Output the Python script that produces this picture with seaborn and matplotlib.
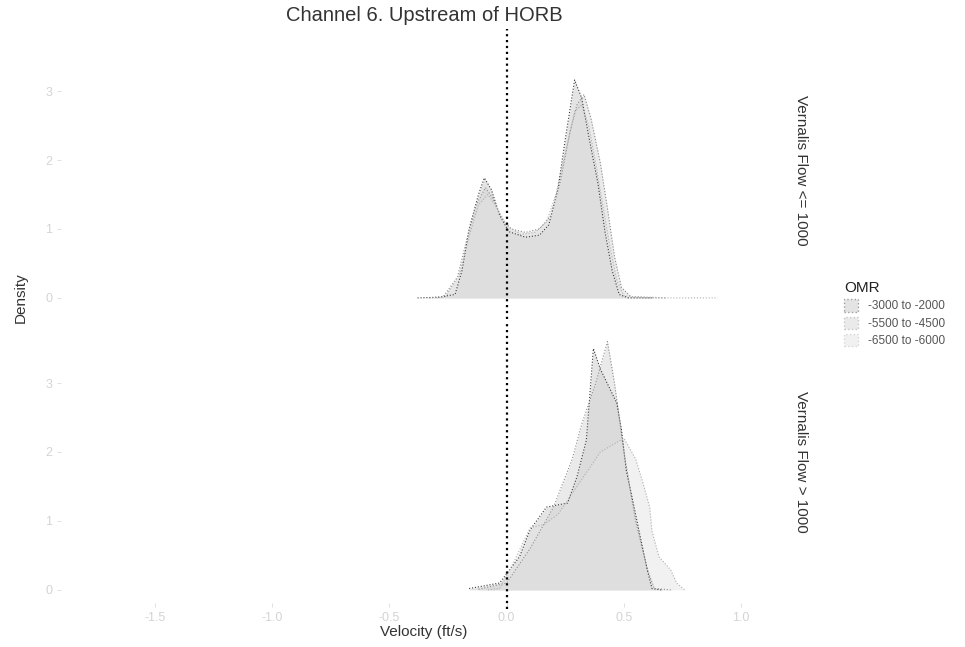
import numpy as np
import pandas as pd
import matplotlib
matplotlib.use("Agg")
import matplotlib.pyplot as plt
import seaborn as sns
from matplotlib.patches import Patch

# ---------------- data ----------------
omr_groups = ["-3000 to -2000", "-5500 to -4500", "-6500 to -6000"]
panels = ["Vernalis Flow <= 1000", "Vernalis Flow > 1000"]

# Vernalis Flow <= 1000
top_g1_x = [-0.38, -0.29, -0.22, -0.19, -0.16, -0.12, -0.095, -0.065, -0.03, 0.01, 0.08, 0.14, 0.18, 0.22, 0.25, 0.29, 0.32, 0.35, 0.39, 0.42, 0.45, 0.48, 0.52, 0.62]
top_g1_y = [0.00, 0.01, 0.05, 0.40, 1.00, 1.50, 1.74, 1.57, 1.20, 0.96, 0.88, 0.91, 1.06, 1.60, 2.30, 3.16, 2.90, 2.35, 1.65, 0.95, 0.40, 0.05, 0.00, 0.00]
top_g2_x = [-0.33, -0.27, -0.21, -0.17, -0.13, -0.09, -0.06, -0.02, 0.02, 0.08, 0.14, 0.19, 0.23, 0.27, 0.30, 0.33, 0.36, 0.40, 0.43, 0.46, 0.49, 0.53, 0.68]
top_g2_y = [0.00, 0.02, 0.30, 0.85, 1.35, 1.60, 1.45, 1.15, 1.00, 0.95, 1.00, 1.20, 1.70, 2.40, 2.80, 2.95, 2.60, 1.95, 1.30, 0.60, 0.15, 0.02, 0.00]
top_g3_x = [-0.30, -0.26, -0.20, -0.16, -0.12, -0.08, -0.04, 0.00, 0.06, 0.12, 0.17, 0.21, 0.25, 0.29, 0.32, 0.35, 0.38, 0.41, 0.44, 0.47, 0.50, 0.60, 0.90]
top_g3_y = [0.00, 0.02, 0.35, 0.90, 1.35, 1.50, 1.30, 1.05, 0.92, 0.95, 1.10, 1.50, 2.10, 2.70, 2.80, 2.50, 1.95, 1.35, 0.75, 0.25, 0.03, 0.00, 0.00]

# Vernalis Flow > 1000
bot_g1_x = [-0.16, -0.03, 0.055, 0.10, 0.17, 0.26, 0.30, 0.34, 0.37, 0.40, 0.47, 0.49, 0.51, 0.54, 0.57, 0.60, 0.62, 0.66]
bot_g1_y = [0.02, 0.10, 0.48, 0.87, 1.20, 1.26, 1.64, 2.17, 3.50, 3.20, 2.71, 2.32, 1.74, 1.26, 0.77, 0.29, 0.02, 0.00]
bot_g2_x = [-0.12, 0.00, 0.10, 0.20, 0.28, 0.32, 0.38, 0.43, 0.46, 0.50, 0.55, 0.60, 0.63, 0.70]
bot_g2_y = [0.01, 0.10, 0.60, 1.20, 1.90, 2.40, 3.00, 3.60, 3.00, 2.00, 1.00, 0.30, 0.02, 0.00]
bot_g3_x = [-0.08, -0.03, 0.03, 0.10, 0.16, 0.22, 0.30, 0.40, 0.50, 0.55, 0.58, 0.61, 0.62, 0.65, 0.70, 0.725, 0.76]
bot_g3_y = [0.00, 0.02, 0.40, 0.90, 0.95, 1.10, 1.50, 2.00, 2.20, 1.90, 1.57, 1.20, 0.85, 0.48, 0.29, 0.10, 0.00]

x_ticks = [-1.5, -1.0, -0.5, 0.0, 0.5, 1.0]
x_tick_labels = ["-1.5", "-1.0", "-0.5", "0.0", "0.5", "1.0"]
y_ticks = [0, 1, 2, 3]
y_tick_labels = ["0", "1", "2", "3"]

curves = {
    panels[0]: [(top_g1_x, top_g1_y), (top_g2_x, top_g2_y), (top_g3_x, top_g3_y)],
    panels[1]: [(bot_g1_x, bot_g1_y), (bot_g2_x, bot_g2_y), (bot_g3_x, bot_g3_y)],
}
rows = []
for p in panels:
    for g, (xs, ys) in zip(omr_groups, curves[p]):
        for xv, yv in zip(xs, ys):
            rows.append({"panel": p, "OMR": g, "velocity": xv, "density": yv})
df = pd.DataFrame(rows)

# ---------------- styling ----------------
sns.set_theme(style="white")
plt.rcParams["font.family"] = ["Liberation Sans", "DejaVu Sans"]

fill_cols = {omr_groups[0]: "#c4c4c4", omr_groups[1]: "#d2d2d2", omr_groups[2]: "#e2e2e2"}
edge_cols = {omr_groups[0]: "#3a3a3a", omr_groups[1]: "#8c8c8c", omr_groups[2]: "#b0b0b0"}

fig = plt.figure(figsize=(9.65, 6.47), dpi=100)
left, width = 0.0634, 0.741
ax_top = fig.add_axes([left, 0.5193, width, 0.4359])
ax_bot = fig.add_axes([left, 0.0680, width, 0.4359], sharex=ax_top)

for ax, p in zip([ax_top, ax_bot], panels):
    sub = df[df["panel"] == p]
    for g in omr_groups:
        s = sub[sub["OMR"] == g]
        ax.fill_between(s["velocity"], s["density"], 0, color=fill_cols[g], alpha=0.45, lw=0)
    sns.lineplot(data=sub, x="velocity", y="density", hue="OMR", hue_order=omr_groups,
                 palette=edge_cols, ax=ax, legend=False, lw=0.8, linestyle=":", sort=False)
    ax.set_xlim(-1.9, 1.15)
    ax.set_ylim(-0.19, 3.9)
    ax.set_yticks(y_ticks)
    ax.set_yticklabels(y_tick_labels)
    ax.set_xlabel("")
    ax.set_ylabel("")
    for sp in ax.spines.values():
        sp.set_visible(False)
    ax.tick_params(axis="both", colors="#dcdcdc", labelcolor="#d4d4d4", labelsize=9,
                   length=3, width=0.6, left=True, bottom=True)
    ax.text(1.035, 0.5, p, transform=ax.transAxes, rotation=-90, ha="center", va="center",
            fontsize=11, color="#333333")

ax_top.axvline(0, ymin=-0.03, ymax=1.0, color="black", ls=":", lw=1.6, clip_on=False)
ax_bot.axvline(0, ymin=-0.02, ymax=1.0, color="black", ls=":", lw=1.6, clip_on=False)

ax_top.tick_params(axis="x", labelbottom=False, bottom=False)
ax_bot.set_xticks(x_ticks)
ax_bot.set_xticklabels(x_tick_labels)

fig.text(0.4395, 0.976, "Channel 6. Upstream of HORB", ha="center", va="center",
         fontsize=14.5, color="#333333")
fig.text(0.4395, 0.023, "Velocity (ft/s)", ha="center", va="center",
         fontsize=11, color="#333333")
fig.text(0.022, 0.54, "Density", ha="center", va="center", rotation=90,
         fontsize=11, color="#333333")

handles = [Patch(facecolor=fill_cols[g], edgecolor=edge_cols[g], linestyle=":", alpha=0.45)
           for g in omr_groups]
leg = fig.legend(handles, omr_groups, title="OMR", loc="upper left",
                 bbox_to_anchor=(0.866, 0.578), frameon=False, fontsize=8.5,
                 title_fontsize=11, handlelength=1.2, handleheight=1.2,
                 labelspacing=0.35, handletextpad=0.8, borderpad=0.2)
leg._legend_box.align = "left"
for t in leg.get_texts():
    t.set_color("#555555")
leg.get_title().set_color("#222222")

fig.savefig("out.png", dpi=100)
